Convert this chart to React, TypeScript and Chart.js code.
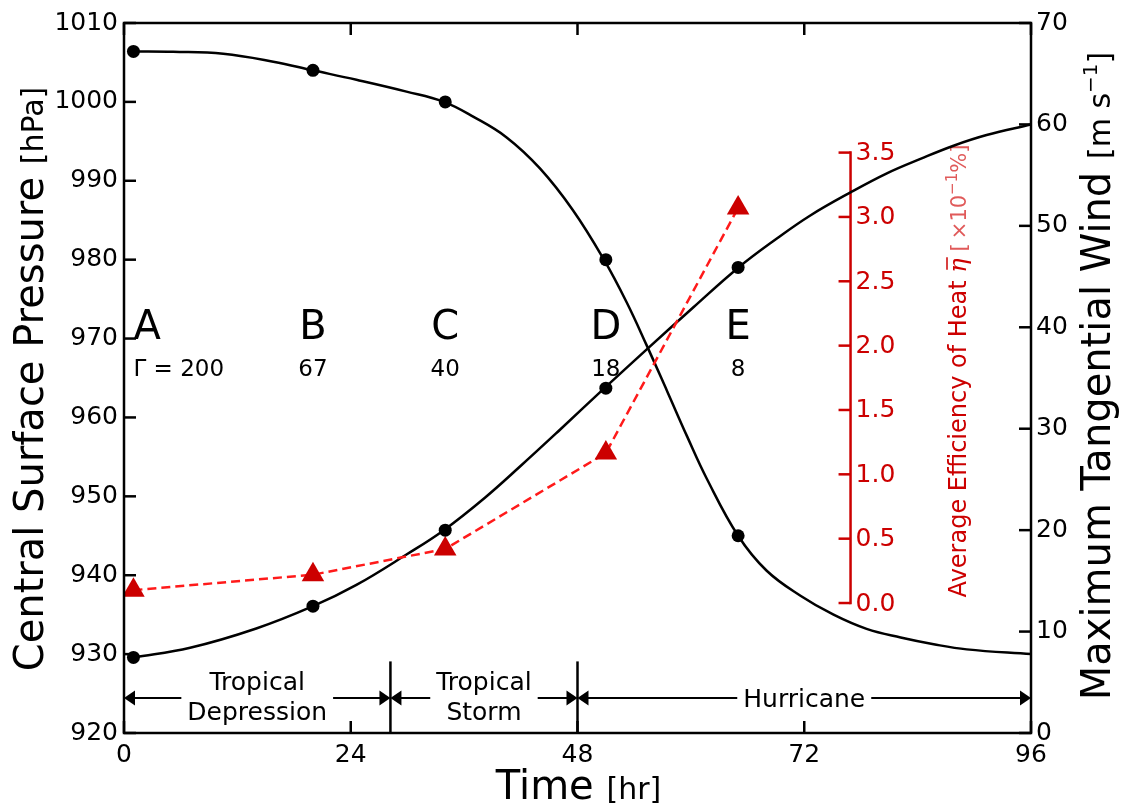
import React, { useEffect, useRef } from 'react';
import { Chart, registerables } from 'chart.js';

Chart.register(...registerables);

const W = 1121;
const H = 812;
const FAMILY = '"DejaVu Sans", Verdana, sans-serif';

// ---- data: markers ----
const timePoints = [1, 20, 34, 51, 65];
const pressurePoints = [1006.4, 1004.0, 1000.0, 980.0, 945.0];
const windPoints = [7.45, 12.5, 20.0, 34.0, 45.9];
const efficiencyPoints = [0.10, 0.22, 0.42, 1.165, 3.07];

// ---- data: fitted curves ----
const pressureCurveTime = [1, 5.2, 10.5, 15.8, 20, 24.6, 29.9, 33.85, 37, 40.5, 44, 47.5, 50.8, 53.2, 55.3, 57.5, 59.6, 61.7, 65, 68, 71.6, 75.1, 78.6, 82.2, 85.7, 89.2, 96];
const pressureCurveValue = [1006.4, 1006.35, 1006.1, 1005.1, 1004.0, 1002.8, 1001.3, 1000.0, 998.1, 995.5, 991.6, 986.3, 980.0, 974.6, 969.2, 963.3, 957.6, 952.2, 945.0, 940.6, 937.4, 935.0, 933.2, 932.1, 931.25, 930.6, 930.0];
const windCurveTime = [1, 7, 14, 20, 24.6, 29.9, 33.85, 38.2, 42, 46.2, 50.85, 55.3, 60.3, 65.05, 69.1, 72.6, 76.9, 80.8, 84.3, 87.8, 91.3, 96];
const windCurveValue = [7.45, 8.4, 10.3, 12.5, 14.6, 17.6, 20.0, 23.2, 26.35, 29.95, 34.0, 37.8, 42.0, 45.9, 48.75, 51.0, 53.3, 55.2, 56.6, 57.9, 58.95, 60.0];

// ---- annotations ----
const stageLetters = ['A', 'B', 'C', 'D', 'E'];
const stageGamma = ['\u0393 = 200', '67', '40', '18', '8'];
const phaseBounds = [0, 28.2, 48, 96];
const phaseLabels = [['Tropical', 'Depression'], ['Tropical', 'Storm'], ['Hurricane']];

// ---- ticks ----
const xTicks = [0, 24, 48, 72, 96];
const pressureTicks = [920, 930, 940, 950, 960, 970, 980, 990, 1000, 1010];
const windTicks = [0, 10, 20, 30, 40, 50, 60, 70];
const efficiencyTicks = [0, 0.5, 1.0, 1.5, 2.0, 2.5, 3.0, 3.5];
const efficiencyAxisTime = 76.9;

const RED = '#cc0000';
const LIGHT_RED = '#e05a5a';

type Seg = { t: string; font: string; color: string; dy?: number; overline?: boolean };

function drawRich(ctx: CanvasRenderingContext2D, segs: Seg[], x: number, y: number, rot: number) {
  ctx.save();
  ctx.translate(x, y);
  ctx.rotate(rot);
  ctx.textAlign = 'left';
  ctx.textBaseline = 'alphabetic';
  let total = 0;
  const ws = segs.map((s) => {
    ctx.font = s.font;
    const w = ctx.measureText(s.t).width;
    total += w;
    return w;
  });
  let cx = -total / 2;
  segs.forEach((s, i) => {
    ctx.font = s.font;
    ctx.fillStyle = s.color;
    ctx.fillText(s.t, cx, s.dy || 0);
    if (s.overline) {
      ctx.strokeStyle = s.color;
      ctx.lineWidth = 1.5;
      ctx.beginPath();
      ctx.moveTo(cx + 3, -19);
      ctx.lineTo(cx + ws[i] + 1, -19);
      ctx.stroke();
    }
    cx += ws[i];
  });
  ctx.restore();
}

const overlay = {
  id: 'overlay',
  beforeDatasetsDraw(chart: any) {
    const ctx: CanvasRenderingContext2D = chart.ctx;
    const xs = chart.scales.x;
    const yE = chart.scales.yE;
    const ex = xs.getPixelForValue(efficiencyAxisTime);
    ctx.save();
    ctx.strokeStyle = RED;
    ctx.lineWidth = 2.5;
    ctx.beginPath();
    ctx.moveTo(ex, yE.getPixelForValue(0) + 1.25);
    ctx.lineTo(ex, yE.getPixelForValue(3.5) - 1.25);
    ctx.stroke();
    ctx.font = `25px ${FAMILY}`;
    ctx.fillStyle = RED;
    ctx.textAlign = 'left';
    ctx.textBaseline = 'middle';
    efficiencyTicks.forEach((v) => {
      const y = yE.getPixelForValue(v);
      ctx.beginPath();
      ctx.moveTo(ex - 12, y);
      ctx.lineTo(ex, y);
      ctx.stroke();
      ctx.fillText(v.toFixed(1), ex + 5, y + 1);
    });
    ctx.restore();
    drawRich(
      ctx,
      [
        { t: 'Average Efficiency of Heat ', font: `24px ${FAMILY}`, color: RED },
        { t: '\u03B7', font: `italic 24px "DejaVu Serif", serif`, color: RED, overline: true },
        { t: ' [\u2009\u00D710', font: `21px ${FAMILY}`, color: LIGHT_RED },
        { t: '\u22121', font: `15px ${FAMILY}`, color: LIGHT_RED, dy: -9 },
        { t: '%]', font: `21px ${FAMILY}`, color: LIGHT_RED },
      ],
      966,
      371,
      -Math.PI / 2,
    );
  },
  afterDraw(chart: any) {
    const ctx: CanvasRenderingContext2D = chart.ctx;
    const { left, right, top, bottom } = chart.chartArea;
    const xs = chart.scales.x;
    const yP = chart.scales.yP;
    const yW = chart.scales.yW;
    ctx.save();
    ctx.strokeStyle = '#000';
    ctx.fillStyle = '#000';
    ctx.lineWidth = 2.5;
    ctx.lineCap = 'butt';
    // inward ticks
    xTicks.forEach((v) => {
      const x = xs.getPixelForValue(v);
      ctx.beginPath();
      ctx.moveTo(x, bottom);
      ctx.lineTo(x, bottom - 12);
      ctx.moveTo(x, top);
      ctx.lineTo(x, top + 12);
      ctx.stroke();
    });
    pressureTicks.forEach((v) => {
      const y = yP.getPixelForValue(v);
      ctx.beginPath();
      ctx.moveTo(left, y);
      ctx.lineTo(left + 12, y);
      ctx.stroke();
    });
    windTicks.forEach((v) => {
      const y = yW.getPixelForValue(v);
      ctx.beginPath();
      ctx.moveTo(right, y);
      ctx.lineTo(right - 12, y);
      ctx.stroke();
    });
    // frame
    ctx.strokeRect(left, top, right - left, bottom - top);

    // stage letters and Gamma values
    ctx.textBaseline = 'alphabetic';
    stageLetters.forEach((s, i) => {
      const x = xs.getPixelForValue(timePoints[i]);
      ctx.textAlign = i === 0 ? 'left' : 'center';
      ctx.font = `40px ${FAMILY}`;
      ctx.fillText(s, x, yP.getPixelForValue(970));
      ctx.font = `23px ${FAMILY}`;
      ctx.fillText(stageGamma[i], x, yP.getPixelForValue(965.3));
    });

    // phase annotations
    const arrowY = bottom - 35;
    ctx.font = `25px ${FAMILY}`;
    ctx.textAlign = 'center';
    ctx.lineWidth = 2;
    const head = (tipX: number, dir: number) => {
      ctx.beginPath();
      ctx.moveTo(tipX, arrowY);
      ctx.lineTo(tipX + dir * 11, arrowY - 7.5);
      ctx.lineTo(tipX + dir * 11, arrowY + 7.5);
      ctx.closePath();
      ctx.fill();
    };
    phaseLabels.forEach((lines, i) => {
      const x0 = xs.getPixelForValue(phaseBounds[i]);
      const x1 = xs.getPixelForValue(phaseBounds[i + 1]);
      const cx = (x0 + x1) / 2;
      const tw = Math.max(...lines.map((l) => ctx.measureText(l).width));
      const g = tw / 2 + 6;
      ctx.beginPath();
      ctx.moveTo(x0 + 4, arrowY);
      ctx.lineTo(cx - g, arrowY);
      ctx.moveTo(cx + g, arrowY);
      ctx.lineTo(x1 - 4, arrowY);
      ctx.stroke();
      head(x0, 1);
      head(x1, -1);
      if (lines.length === 1) {
        ctx.fillText(lines[0], cx, arrowY + 8.5);
      } else {
        ctx.fillText(lines[0], cx, arrowY - 7.6);
        ctx.fillText(lines[1], cx, arrowY + 21.7);
      }
    });
    ctx.lineWidth = 2.5;
    phaseBounds.slice(1, -1).forEach((b) => {
      const x = xs.getPixelForValue(b);
      ctx.beginPath();
      ctx.moveTo(x, bottom);
      ctx.lineTo(x, bottom - 71.6);
      ctx.stroke();
    });
    ctx.restore();

    // axis titles
    const midY = (top + bottom) / 2;
    drawRich(
      ctx,
      [
        { t: 'Central Surface Pressure ', font: `40px ${FAMILY}`, color: '#000' },
        { t: '[hPa]', font: `30px ${FAMILY}`, color: '#000' },
      ],
      43,
      midY + 1,
      -Math.PI / 2,
    );
    drawRich(
      ctx,
      [
        { t: 'Maximum Tangential Wind ', font: `40px ${FAMILY}`, color: '#000' },
        { t: '[m s', font: `30px ${FAMILY}`, color: '#000' },
        { t: '\u22121', font: `20px ${FAMILY}`, color: '#000', dy: -13 },
        { t: ']', font: `30px ${FAMILY}`, color: '#000' },
      ],
      1110,
      midY - 2,
      -Math.PI / 2,
    );
    drawRich(
      ctx,
      [
        { t: 'Time ', font: `40px ${FAMILY}`, color: '#000' },
        { t: '[hr]', font: `30px ${FAMILY}`, color: '#000' },
      ],
      (left + right) / 2 + 1,
      799,
      0,
    );
  },
};

const toXY = (xs: number[], ys: number[]) => xs.map((x, i) => ({ x, y: ys[i] }));
const plain = (v: any) => String(v);

export default function App() {
  const ref = useRef<HTMLCanvasElement>(null);
  useEffect(() => {
    const tickFont = { family: FAMILY, size: 25 };
    const chart = new Chart(ref.current as HTMLCanvasElement, {
      type: 'line',
      data: {
        datasets: [
          {
            data: toXY(timePoints, pressurePoints),
            yAxisID: 'yP',
            showLine: false,
            pointRadius: 6.5,
            pointBackgroundColor: '#000',
            pointBorderWidth: 0,
            order: 1,
          },
          {
            data: toXY(timePoints, windPoints),
            yAxisID: 'yW',
            showLine: false,
            pointRadius: 6.5,
            pointBackgroundColor: '#000',
            pointBorderWidth: 0,
            order: 1,
          },
          {
            data: toXY(timePoints, efficiencyPoints),
            yAxisID: 'yE',
            borderColor: '#ff1a1a',
            borderWidth: 2.5,
            borderDash: [9, 5],
            pointStyle: 'triangle',
            pointRadius: 13,
            pointBackgroundColor: RED,
            pointBorderWidth: 0,
            tension: 0,
            order: 2,
          },
          {
            data: toXY(pressureCurveTime, pressureCurveValue),
            yAxisID: 'yP',
            borderColor: '#000',
            borderWidth: 2.5,
            pointRadius: 0,
            tension: 0.4,
            order: 3,
          },
          {
            data: toXY(windCurveTime, windCurveValue),
            yAxisID: 'yW',
            borderColor: '#000',
            borderWidth: 2.5,
            pointRadius: 0,
            tension: 0.4,
            order: 3,
          },
        ] as any,
      },
      options: {
        responsive: false,
        animation: false,
        devicePixelRatio: 1,
        layout: { padding: { top: 23, left: 0, right: 0, bottom: 0 } },
        plugins: { legend: { display: false }, tooltip: { enabled: false } },
        scales: {
          x: {
            type: 'linear',
            position: 'bottom',
            min: 0,
            max: 96,
            afterBuildTicks: (s: any) => {
              s.ticks = xTicks.map((v) => ({ value: v }));
            },
            afterFit: (s: any) => {
              s.height = 79;
            },
            grid: { display: false, drawTicks: false },
            border: { display: false },
            ticks: { font: tickFont, color: '#000', padding: 7, maxRotation: 0, autoSkip: false, callback: plain },
          },
          yP: {
            type: 'linear',
            position: 'left',
            min: 920,
            max: 1010,
            afterBuildTicks: (s: any) => {
              s.ticks = pressureTicks.map((v) => ({ value: v }));
            },
            afterFit: (s: any) => {
              s.width = 124;
            },
            grid: { display: false, drawTicks: false },
            border: { display: false },
            ticks: { font: tickFont, color: '#000', padding: 6, autoSkip: false, callback: plain },
          },
          yW: {
            type: 'linear',
            position: 'right',
            min: 0,
            max: 70,
            afterBuildTicks: (s: any) => {
              s.ticks = windTicks.map((v) => ({ value: v }));
            },
            afterFit: (s: any) => {
              s.width = 90;
            },
            grid: { display: false, drawTicks: false },
            border: { display: false },
            ticks: { font: tickFont, color: '#000', padding: 5, autoSkip: false, callback: plain },
          },
          yE: {
            type: 'linear',
            display: false,
            min: -1.01,
            max: 4.507,
          },
        },
      },
      plugins: [overlay],
    });
    return () => chart.destroy();
  }, []);
  return (
    <div style={{ position: 'fixed', left: 0, top: 0, width: W, height: H, background: '#fff' }}>
      <canvas ref={ref} width={W} height={H} style={{ width: W, height: H, display: 'block' }} />
    </div>
  );
}
